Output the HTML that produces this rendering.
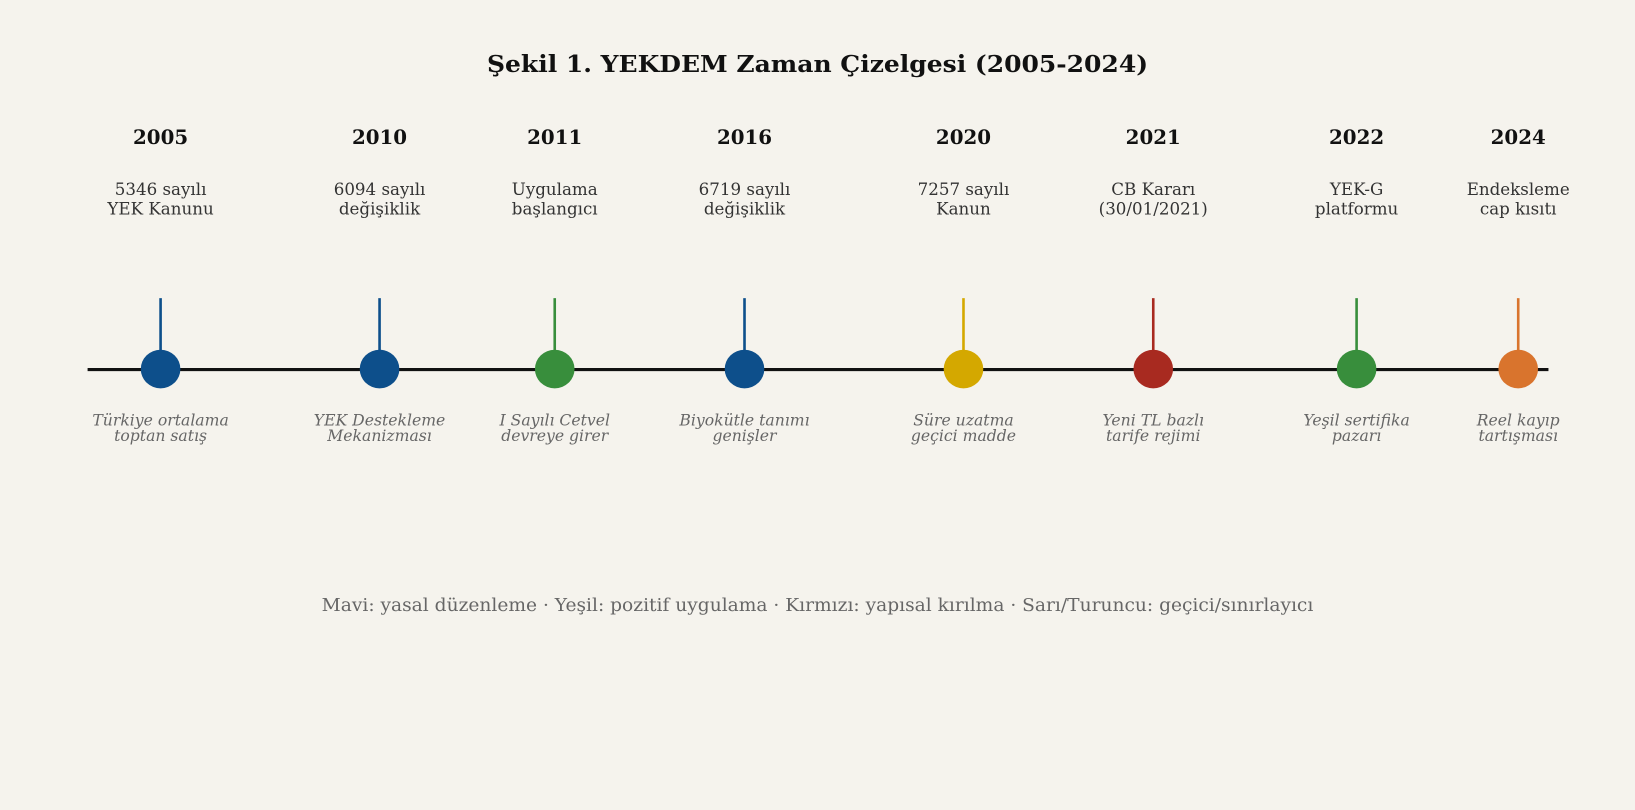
<!DOCTYPE html>
<html><head><meta charset="utf-8"><style>
html,body{margin:0;padding:0;background:#f5f3ed;}
svg{display:block}
text{font-family:"DejaVu Serif","Liberation Serif",serif;text-anchor:middle}
.y{font-weight:bold;font-size:19px;fill:#111}
.d{font-size:16px;fill:#333}
.i{font-style:italic;font-size:15px;fill:#666}
</style></head><body>
<svg width="1635" height="810" viewBox="0 0 1568 777" preserveAspectRatio="none">
<rect width="1568" height="777" fill="#f5f3ed"/>
<text x="784" y="69" style="font-weight:bold;font-size:22px;fill:#111" textLength="634" lengthAdjust="spacingAndGlyphs">Şekil 1. YEKDEM Zaman Çizelgesi (2005-2024)</text>
<line x1="84" y1="354.5" x2="1485" y2="354.5" stroke="#111" stroke-width="3"/>
<g>
<line x1="154" y1="286" x2="154" y2="340" stroke="#0d4f8b" stroke-width="2.5"/><ellipse cx="154" cy="354" rx="19" ry="18.5" fill="#0d4f8b"/>
<text class="y" x="154" y="138">2005</text><text class="d" x="154" y="187">5346 sayılı</text><text class="d" x="154" y="206">YEK Kanunu</text>
<text class="i" x="154" y="408">Türkiye ortalama</text><text class="i" x="154" y="423">toptan satış</text>

<line x1="364" y1="286" x2="364" y2="340" stroke="#0d4f8b" stroke-width="2.5"/><ellipse cx="364" cy="354" rx="19" ry="18.5" fill="#0d4f8b"/>
<text class="y" x="364" y="138">2010</text><text class="d" x="364" y="187">6094 sayılı</text><text class="d" x="364" y="206">değişiklik</text>
<text class="i" x="364" y="408">YEK Destekleme</text><text class="i" x="364" y="423">Mekanizması</text>

<line x1="532" y1="286" x2="532" y2="340" stroke="#388e3c" stroke-width="2.5"/><ellipse cx="532" cy="354" rx="19" ry="18.5" fill="#388e3c"/>
<text class="y" x="532" y="138">2011</text><text class="d" x="532" y="187">Uygulama</text><text class="d" x="532" y="206">başlangıcı</text>
<text class="i" x="532" y="408">I Sayılı Cetvel</text><text class="i" x="532" y="423">devreye girer</text>

<line x1="714" y1="286" x2="714" y2="340" stroke="#0d4f8b" stroke-width="2.5"/><ellipse cx="714" cy="354" rx="19" ry="18.5" fill="#0d4f8b"/>
<text class="y" x="714" y="138">2016</text><text class="d" x="714" y="187">6719 sayılı</text><text class="d" x="714" y="206">değişiklik</text>
<text class="i" x="714" y="408">Biyokütle tanımı</text><text class="i" x="714" y="423">genişler</text>

<line x1="924" y1="286" x2="924" y2="340" stroke="#d4a800" stroke-width="2.5"/><ellipse cx="924" cy="354" rx="19" ry="18.5" fill="#d4a800"/>
<text class="y" x="924" y="138">2020</text><text class="d" x="924" y="187">7257 sayılı</text><text class="d" x="924" y="206">Kanun</text>
<text class="i" x="924" y="408">Süre uzatma</text><text class="i" x="924" y="423">geçici madde</text>

<line x1="1106" y1="286" x2="1106" y2="340" stroke="#a82a20" stroke-width="2.5"/><ellipse cx="1106" cy="354" rx="19" ry="18.5" fill="#a82a20"/>
<text class="y" x="1106" y="138">2021</text><text class="d" x="1106" y="187">CB Kararı</text><text class="d" x="1106" y="206">(30/01/2021)</text>
<text class="i" x="1106" y="408">Yeni TL bazlı</text><text class="i" x="1106" y="423">tarife rejimi</text>

<line x1="1301" y1="286" x2="1301" y2="340" stroke="#388e3c" stroke-width="2.5"/><ellipse cx="1301" cy="354" rx="19" ry="18.5" fill="#388e3c"/>
<text class="y" x="1301" y="138">2022</text><text class="d" x="1301" y="187">YEK-G</text><text class="d" x="1301" y="206">platformu</text>
<text class="i" x="1301" y="408">Yeşil sertifika</text><text class="i" x="1301" y="423">pazarı</text>

<line x1="1456" y1="286" x2="1456" y2="340" stroke="#d9742d" stroke-width="2.5"/><ellipse cx="1456" cy="354" rx="19" ry="18.5" fill="#d9742d"/>
<text class="y" x="1456" y="138">2024</text><text class="d" x="1456" y="187">Endeksleme</text><text class="d" x="1456" y="206">cap kısıtı</text>
<text class="i" x="1456" y="408">Reel kayıp</text><text class="i" x="1456" y="423">tartışması</text>
</g>
<text x="784" y="586" style="font-size:17px;fill:#666" textLength="951" lengthAdjust="spacingAndGlyphs">Mavi: yasal düzenleme · Yeşil: pozitif uygulama · Kırmızı: yapısal kırılma · Sarı/Turuncu: geçici/sınırlayıcı</text>
</svg>
</body></html>
